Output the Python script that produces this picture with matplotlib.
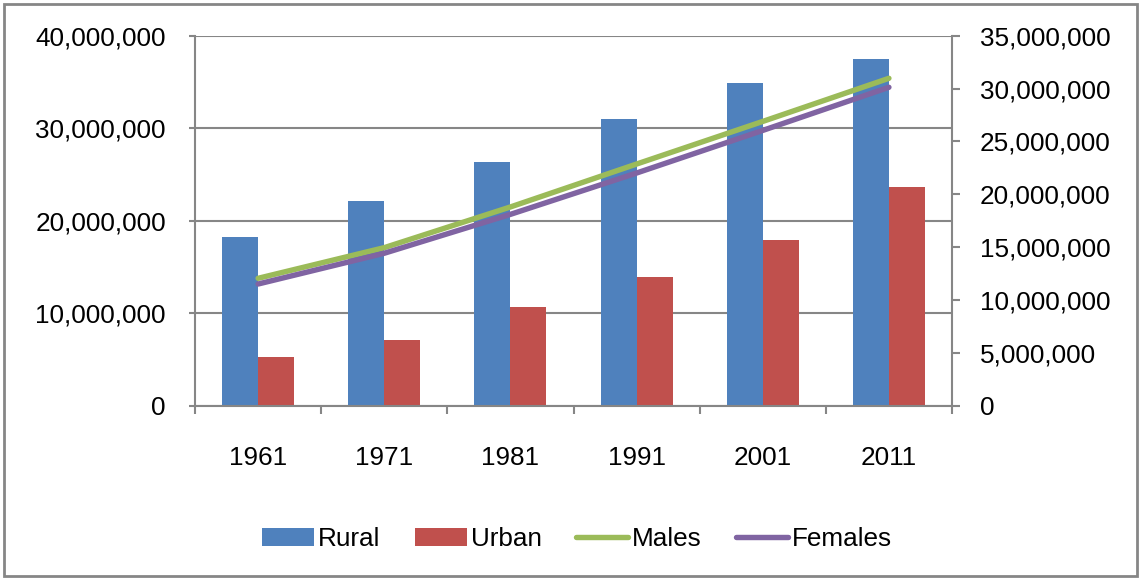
import matplotlib.pyplot as plt
import matplotlib.ticker as mticker
from matplotlib.patches import Rectangle
import numpy as np

plt.rcParams['font.family'] = ['Liberation Sans', 'DejaVu Sans']

years = ['1961', '1971', '1981', '1991', '2001', '2011']
rural = [18.27e6, 22.16e6, 26.38e6, 31.03e6, 34.85e6, 37.45e6]
urban = [5.23e6, 7.10e6, 10.70e6, 13.88e6, 17.95e6, 23.61e6]
males = [12.05e6, 14.95e6, 18.8e6, 22.86e6, 26.89e6, 30.97e6]
females = [11.51e6, 14.42e6, 18.1e6, 22.01e6, 26.04e6, 30.12e6]

blue = '#4F81BD'
red = '#C0504D'
green = '#9BBB59'
purple = '#8064A2'
grey = '#868686'
fs = 18.8

W, H = 1141, 580
fig = plt.figure(figsize=(W / 100, H / 100), dpi=100)
ax = fig.add_axes([195 / W, (H - 405.7) / H, (952 - 195) / W, 370 / H])

x = np.arange(len(years))
bw = 0.285
ax.bar(x - bw / 2, rural, bw, color=blue, label='Rural', zorder=2)
ax.bar(x + bw / 2, urban, bw, color=red, label='Urban', zorder=2)
ax.set_xlim(-0.5, len(years) - 0.5)
ax.set_ylim(0, 40e6)
ax.set_yticks(np.arange(0, 40e6 + 1, 10e6))
ax.yaxis.set_major_formatter(mticker.FuncFormatter(lambda v, p: f'{v:,.0f}'))
ax.grid(axis='y', color=grey, lw=1.5, zorder=0)
ax.set_axisbelow(True)

ax.set_xticks(x)
ax.set_xticklabels(years)
ax.set_xticks(np.arange(-0.5, len(years)), minor=True)
ax.tick_params(axis='x', which='major', length=0, pad=29, labelsize=fs)
ax.tick_params(axis='x', which='minor', length=6, width=1.5, color=grey, direction='out')
ax.tick_params(axis='y', length=4, width=1.5, color=grey, pad=17, labelsize=fs)

for s in ['left', 'bottom']:
    ax.spines[s].set_color(grey)
    ax.spines[s].set_linewidth(1.5)
ax.spines['top'].set_visible(False)
ax.spines['right'].set_visible(False)

ax2 = ax.twinx()
ax2.plot(x, males, color=green, lw=3.9, solid_capstyle='round', label='Males')
ax2.plot(x, females, color=purple, lw=3.9, solid_capstyle='round', label='Females')
ax2.set_ylim(0, 35e6)
ax2.set_yticks(np.arange(0, 35e6 + 1, 5e6))
ax2.yaxis.set_major_formatter(mticker.FuncFormatter(lambda v, p: f'{v:,.0f}'))
ax2.tick_params(axis='y', length=6, width=1.5, color=grey, pad=14, labelsize=fs)
for s in ['left', 'top', 'bottom']:
    ax2.spines[s].set_visible(False)
ax2.spines['right'].set_color(grey)
ax2.spines['right'].set_linewidth(1.5)

h1, l1 = ax.get_legend_handles_labels()
h2, l2 = ax2.get_legend_handles_labels()
fig.legend(h1 + h2, l1 + l2, loc='center', bbox_to_anchor=(577 / W, 1 - 539 / H),
           ncol=4, frameon=False, fontsize=fs, handlelength=2.0, handleheight=0.65,
           handletextpad=0.15, columnspacing=1.3)

fig.add_artist(Rectangle((4 / W, 4 / H), 1 - 8 / W, 1 - 8 / H, transform=fig.transFigure,
                         fill=False, edgecolor=grey, lw=2))

fig.savefig('out.png', dpi=100)
